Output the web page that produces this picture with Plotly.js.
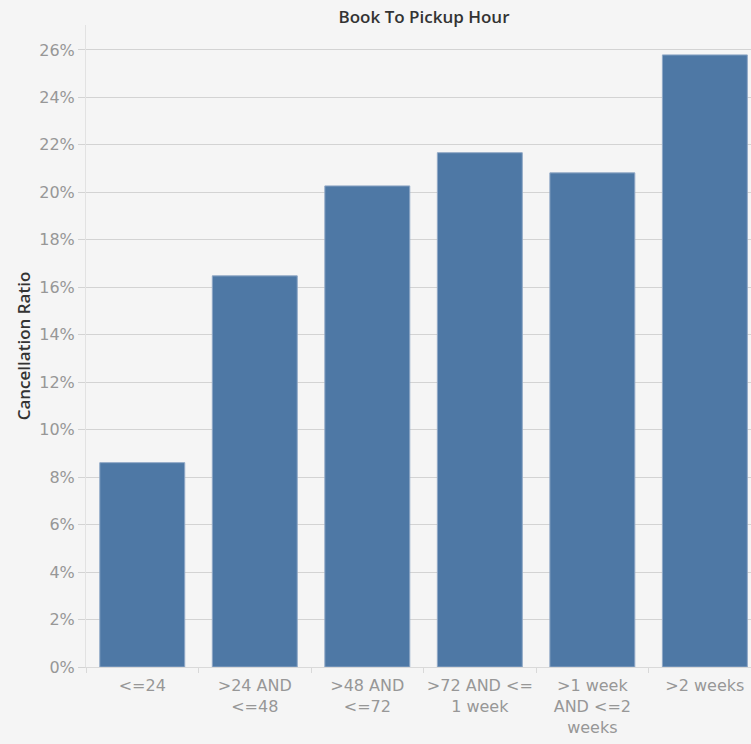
<!DOCTYPE html>
<html>
<head>
<meta charset="utf-8">
<script src="https://cdn.plot.ly/plotly-3.0.1.min.js"></script>
<style>
  html, body { margin: 0; padding: 0; background: #f5f5f5; }
  #chart { width: 751px; height: 744px; }
</style>
</head>
<body>
<div id="chart"></div>
<script>
// Booking lead-time buckets (hours between booking and pickup)
const categories = [
  '&lt;=24',
  '&gt;24 AND<br>&lt;=48',
  '&gt;48 AND<br>&lt;=72',
  '&gt;72 AND &lt;=<br>1 week',
  '&gt;1 week<br>AND &lt;=2<br>weeks',
  '&gt;2 weeks'
];

// Share of bookings cancelled in each bucket
const cancellationRatio = [0.0861, 0.1648, 0.2027, 0.2167, 0.2082, 0.2579];

// Y axis ticks every 2%
const yTickValues = [0, 0.02, 0.04, 0.06, 0.08, 0.10, 0.12, 0.14, 0.16, 0.18, 0.20, 0.22, 0.24, 0.26];

const barTrace = {
  type: 'bar',
  x: categories,
  y: cancellationRatio,
  marker: {
    color: '#4e78a5',
    line: { color: '#90a8c6', width: 1 }
  },
  hovertemplate: '%{y:.1%}<extra></extra>'
};

const tickFont = { family: 'DejaVu Sans, sans-serif', size: 16, color: '#979797' };

const layout = {
  width: 751,
  height: 744,
  margin: { l: 86, r: 0, t: 25, b: 77, pad: 0 },
  paper_bgcolor: '#f5f5f5',
  plot_bgcolor: '#f5f5f5',
  bargap: 0.245,
  showlegend: false,
  title: {
    text: 'Book To Pickup Hour',
    font: { family: 'Open Sans, sans-serif', size: 17, color: '#333333', weight: 600 },
    xref: 'container',
    x: 0.5646,
    xanchor: 'center',
    yref: 'container',
    y: 0.977,
    yanchor: 'middle'
  },
  xaxis: {
    type: 'category',
    range: [-0.5, 5.41],
    showgrid: false,
    zeroline: false,
    showline: true,
    linecolor: '#d9d9d9',
    linewidth: 1,
    ticks: 'outside',
    tickson: 'boundaries',
    ticklen: 5,
    tickcolor: '#d9d9d9',
    tickangle: 0,
    ticklabelstandoff: 4,
    tickfont: tickFont,
    fixedrange: true
  },
  yaxis: {
    range: [0, 0.2705],
    tickvals: yTickValues,
    tickformat: '.0%',
    showgrid: true,
    gridcolor: '#d3d3d3',
    gridwidth: 1,
    zeroline: false,
    showline: true,
    linecolor: '#e2e2e2',
    linewidth: 1,
    ticks: 'outside',
    ticklen: 7,
    tickcolor: '#d3d3d3',
    tickfont: tickFont,
    automargin: false,
    title: {
      text: 'Cancellation Ratio',
      font: { family: 'Open Sans, sans-serif', size: 17, color: '#333333', weight: 600 },
      standoff: 4
    },
    fixedrange: true
  }
};

Plotly.newPlot('chart', [barTrace], layout, { displayModeBar: false, staticPlot: true });
</script>
</body>
</html>
